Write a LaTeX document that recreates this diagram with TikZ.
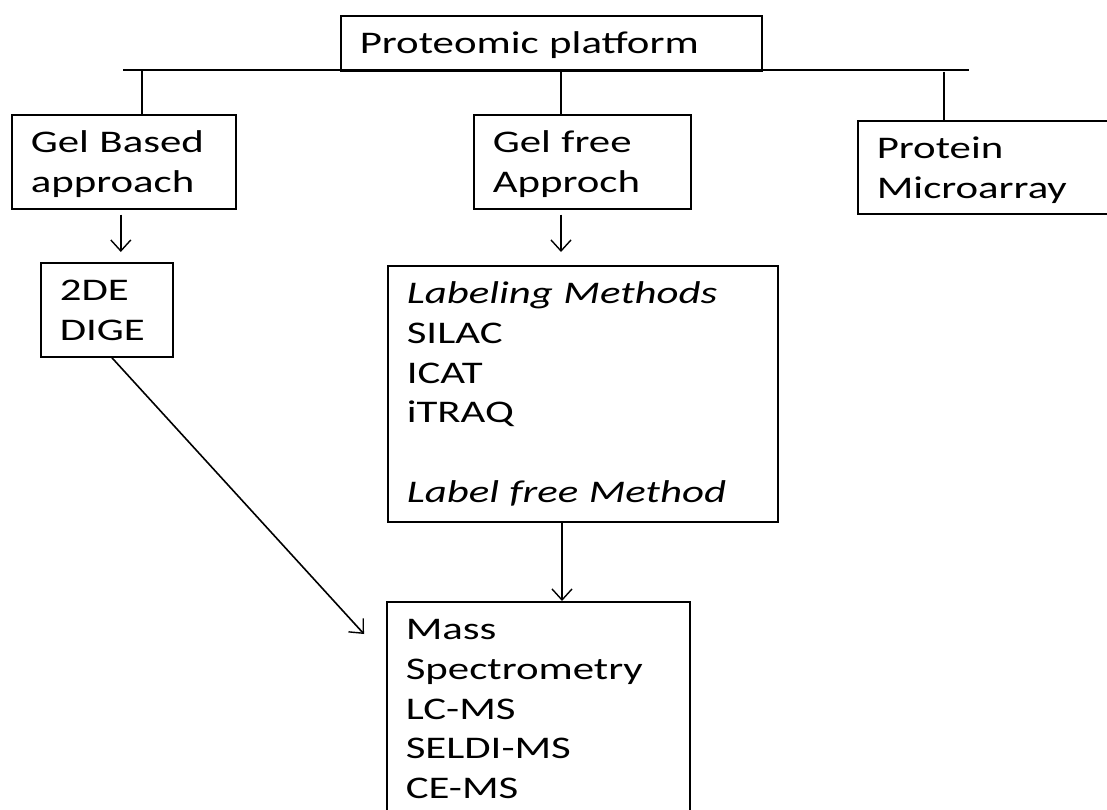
\documentclass[tikz,border=0pt]{standalone}
\usepackage{fontspec}
\setmainfont{Carlito}[FakeStretch=1.36]
\usetikzlibrary{arrows.meta}
\begin{document}
\begin{tikzpicture}[x=1pt,y=-1pt,
  boxnode/.style={draw, line width=1.6pt, anchor=north west, inner xsep=19pt, inner ysep=0pt,
    align=left, text height=38pt, font=\fontsize{31.5}{39.7}\selectfont},
  conn/.style={line width=1.6pt},
  arr/.style={line width=1.6pt, -{Straight Barb[length=11pt,width=20pt,line width=1.4pt]}}]
\useasboundingbox (0,0) rectangle (1107,810);
\clip (0,0) rectangle (1107,810);
% boxes
\node[boxnode, text width=383pt, text depth=17pt] (PP) at (340,15) {Proteomic platform};
\node[boxnode, text width=186pt, text depth=56pt] (GB) at (11,114) {Gel Based\\approach};
\node[boxnode, text width=179pt, text depth=56pt] (GF) at (473,114) {Gel free\\Approch};
\node[boxnode, text width=242pt, text depth=55pt] (PM) at (857,120) {Protein\\Microarray};
\node[boxnode, text width=94pt, text depth=56pt] (TD) at (40,262) {2DE\\DIGE};
\node[boxnode, text width=352pt, text depth=218pt] (LB) at (387,265)
  {\textit{Labeling Methods}\\SILAC\\ICAT\\iTRAQ\\[39.7pt]\textit{Label free Method}};
\node[boxnode, text width=265pt, text depth=200pt] (MS) at (386,601)
  {Mass\\Spectrometry\\LC-MS\\SELDI-MS\\CE-MS};
% bus
\coordinate (busL) at (123,70);
\coordinate (busR) at (969,70);
\coordinate (j1) at (142,70);
\coordinate (j2) at (561,70);
\coordinate (j3) at (944,72);
\draw[conn] (busL) -- (busR);
\draw[conn] (j1) -- (j1 |- GB.north);
\draw[conn] (j2) -- (j2 |- GF.north);
\draw[conn] (j3) -- (j3 |- PM.north);
% arrows
\draw[arr, shorten <=5pt, shorten >=10pt] ([xshift=-3pt]GB.south) -- ([xshift=-3pt]GB.south |- TD.north);
\draw[arr, shorten <=5pt, shorten >=13pt] (j2 |- GF.south) -- (j2 |- LB.north);
\draw[arr] ([xshift=1pt]j2 |- LB.south) -- ([xshift=1pt]j2 |- MS.north);
\coordinate (dEnd) at (364,634);
\draw[arr] ([xshift=5pt]TD.south) -- (dEnd);
\end{tikzpicture}
\end{document}
